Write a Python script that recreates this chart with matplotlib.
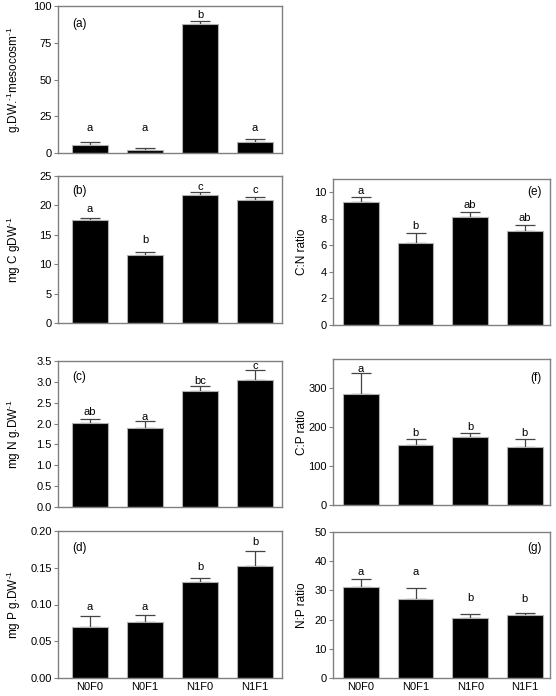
import matplotlib
matplotlib.use('Agg')
import matplotlib.pyplot as plt

plt.rcParams.update({
    'font.family': ['Liberation Sans', 'DejaVu Sans'],
    'mathtext.fontset': 'custom',
    'mathtext.rm': 'Liberation Sans',
    'mathtext.it': 'Liberation Sans',
    'font.size': 8,
})

treatments = ['N0F0', 'N0F1', 'N1F0', 'N1F1']

# biomass (a)
a_mean = [5.2, 2.3, 88.0, 7.5]
a_se = [2.1, 0.9, 2.0, 1.8]
a_letters = ['a', 'a', 'b', 'a']
a_lab_y = [14.8, 14.8, 92.0, 14.8]

# carbon (b)
b_mean = [17.5, 11.5, 21.8, 21.0]
b_se = [0.3, 0.55, 0.4, 0.4]
b_letters = ['a', 'b', 'c', 'c']
b_lab_y = [18.9, 13.6, 22.7, 22.1]

# nitrogen (c)
c_mean = [2.01, 1.89, 2.78, 3.05]
c_se = [0.11, 0.18, 0.12, 0.23]
c_letters = ['ab', 'a', 'bc', 'c']
c_lab_y = [2.20, 2.09, 2.94, 3.32]

# phosphorus (d)
d_mean = [0.069, 0.0765, 0.1305, 0.152]
d_se = [0.0155, 0.0097, 0.006, 0.021]
d_letters = ['a', 'a', 'b', 'b']
d_lab_y = [0.092, 0.092, 0.1465, 0.1814]

# C:N (e)
e_mean = [9.25, 6.18, 8.13, 7.1]
e_se = [0.4, 0.77, 0.37, 0.45]
e_letters = ['a', 'b', 'ab', 'ab']
e_lab_y = [9.88, 7.25, 8.8, 7.8]

# C:P (f)
f_mean = [284, 154, 175, 148]
f_se = [54, 14.5, 9.5, 20.5]
f_letters = ['a', 'b', 'b', 'b']
f_lab_y = [342, 177, 192, 177]

# N:P (g)
g_mean = [31.0, 27.0, 20.7, 21.5]
g_se = [2.75, 3.7, 1.2, 0.7]
g_letters = ['a', 'a', 'b', 'b']
g_lab_y = [35.2, 35.2, 26.4, 26.1]

W, H = 556, 696
fig = plt.figure(figsize=(W / 100, H / 100), dpi=100)


def make_ax(x0, x1, ytop, ybot):
    return fig.add_axes([x0 / W, 1 - ybot / H, (x1 - x0) / W, (ybot - ytop) / H])


def draw(ax, mean, se, letters, lab_y, ylim, yticks, ylabel, tag, tag_pos,
         xlim, bottom=False, fmt=None):
    x = list(range(len(mean)))
    ax.bar(x, mean, width=0.655, color='black', edgecolor='#b0b0b0', linewidth=0.8, zorder=2)
    ax.errorbar(x, mean, yerr=[[0] * len(se), se], fmt='none', ecolor='#444444',
                elinewidth=0.9, capsize=7, capthick=0.9, zorder=1)
    for xi, lab, ly in zip(x, letters, lab_y):
        ax.text(xi, ly, lab, ha='center', va='baseline', fontsize=8)
    ax.set_xlim(*xlim)
    ax.set_ylim(*ylim)
    ax.set_yticks(yticks)
    if fmt:
        ax.set_yticklabels([fmt.format(v) for v in yticks])
    ax.set_ylabel(ylabel, fontsize=8.5)
    for s in ax.spines.values():
        s.set_color('#808080')
        s.set_linewidth(1.0)
    ax.tick_params(axis='y', length=3, width=0.8, color='#808080', pad=1.5, labelsize=8)
    ax.tick_params(axis='x', length=0, pad=3, labelsize=8)
    ax.set_xticks(x)
    if bottom:
        ax.set_xticklabels(treatments)
    else:
        ax.set_xticklabels([])
    ha = 'left' if tag_pos[0] < 0.5 else 'right'
    ax.text(tag_pos[0], tag_pos[1], tag, transform=ax.transAxes, ha=ha, va='center', fontsize=8.5)


left_xlim = (-0.58, 3.49)
right_xlim = (-0.51, 3.46)
sup = r'$^{\text{-1}}$'

ax_a = make_ax(58, 282, 6, 153)
ax_b = make_ax(58, 282, 176, 323)
ax_c = make_ax(58, 282, 361, 507)
ax_d = make_ax(58, 282, 531, 678)
ax_e = make_ax(333, 550, 179, 325)
ax_f = make_ax(333, 550, 359, 505)
ax_g = make_ax(333, 550, 532, 678)

draw(ax_a, a_mean, a_se, a_letters, a_lab_y, (0, 100), [0, 25, 50, 75, 100],
     'g.DW.' + sup + 'mesocosm' + sup, '(a)', (0.065, 0.88), left_xlim)
draw(ax_b, b_mean, b_se, b_letters, b_lab_y, (0, 25), [0, 5, 10, 15, 20, 25],
     'mg C gDW' + sup, '(b)', (0.065, 0.90), left_xlim)
draw(ax_c, c_mean, c_se, c_letters, c_lab_y, (0, 3.5), [0, 0.5, 1.0, 1.5, 2.0, 2.5, 3.0, 3.5],
     'mg N g.DW' + sup, '(c)', (0.065, 0.89), left_xlim, fmt='{:.1f}')
draw(ax_d, d_mean, d_se, d_letters, d_lab_y, (0, 0.2), [0, 0.05, 0.10, 0.15, 0.20],
     'mg P g.DW' + sup, '(d)', (0.065, 0.886), left_xlim, bottom=True, fmt='{:.2f}')
draw(ax_e, e_mean, e_se, e_letters, e_lab_y, (0, 11), [0, 2, 4, 6, 8, 10],
     'C:N ratio', '(e)', (0.963, 0.913), right_xlim)
draw(ax_f, f_mean, f_se, f_letters, f_lab_y, (0, 375), [0, 100, 200, 300],
     'C:P ratio', '(f)', (0.963, 0.87), right_xlim)
draw(ax_g, g_mean, g_se, g_letters, g_lab_y, (0, 50), [0, 10, 20, 30, 40, 50],
     'N:P ratio', '(g)', (0.963, 0.89), right_xlim, bottom=True)

for ax in (ax_a, ax_b, ax_c, ax_d):
    ax.yaxis.set_label_coords(-0.156, 0.5)
for ax in (ax_e, ax_f, ax_g):
    ax.yaxis.set_label_coords(-0.115, 0.5)

fig.savefig('out.png', dpi=100)
